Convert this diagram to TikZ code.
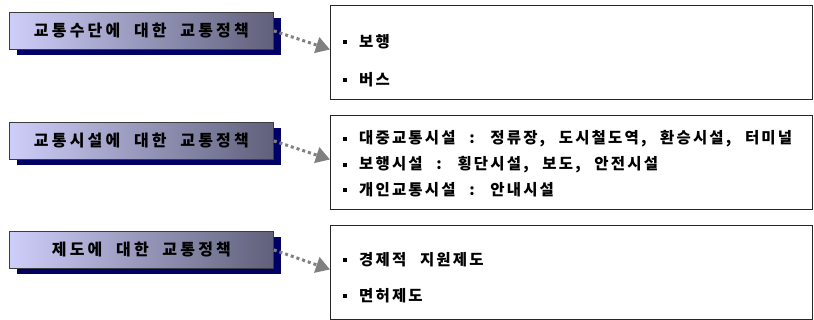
\documentclass[tikz,border=0pt]{standalone}
\usepackage{fontspec}
\usetikzlibrary{arrows.meta,shadows,calc}
\newfontfamily\krtitle[LetterSpace=20,WordSpace=2,BoldFont={Noto Sans CJK KR Black}]{Noto Sans CJK KR}
\newfontfamily\kritem[LetterSpace=14,WordSpace=2.4,BoldFont={Noto Sans CJK KR Black}]{Noto Sans CJK KR}
\definecolor{boxL}{RGB}{206,206,250}
\definecolor{boxR}{RGB}{96,96,124}
\definecolor{shad}{RGB}{0,0,102}
\definecolor{arr}{RGB}{128,128,128}
\definecolor{bord}{RGB}{60,60,60}
\begin{document}
\begin{tikzpicture}[x=1pt,y=-1pt,
 policy/.style={draw=bord, line width=0.8pt, left color=boxL, right color=boxR,
   minimum width=264pt, minimum height=37pt, inner sep=0pt, anchor=north west,
   font=\krtitle\bfseries\fontsize{16pt}{19pt}\selectfont,
   drop shadow={shadow xshift=8pt, shadow yshift=-6pt, fill=shad, opacity=1}},
 detail/.style={draw=black!85, line width=1pt, minimum width=482pt, minimum height=94pt,
   inner sep=0pt, anchor=north west},
 item/.style={anchor=west, inner sep=0pt, font=\kritem\bfseries\fontsize{15.5pt}{18pt}\selectfont},
 bullet/.style={fill=black, minimum size=4.5pt, inner sep=0pt},
 link/.style={draw=arr, line width=3pt, dash pattern=on 3pt off 3pt,
   -{Triangle[length=14pt,width=16pt]}}
]
\useasboundingbox (0,0) rectangle (814,320);

% left policy boxes
\node[policy] (l1) at (9,12) {교통수단에 대한 교통정책};
\node[policy] (l2) at (9,122) {교통시설에 대한 교통정책};
\node[policy] (l3) at (9,231) {제도에 대한 교통정책};

% right detail boxes
\node[detail] (r1) at (330,5) {};
\node[detail] (r2) at (330,115) {};
\node[detail] (r3) at (330,225) {};

% connectors
\draw[link] (l1.east) -- ($(r1.west)+(0,-3)$);
\draw[link] (l2.east) -- ($(r2.west)+(0,-3)$);
\draw[link] (l3.east) -- ($(r3.west)+(0,-3)$);

% items box 1
\node[bullet] (b11) at (345,42) {};
\node[item] (t11) at (359,42) {보행};
\node[bullet] (b12) at (345,80) {};
\node[item] (t12) at (359,80) {버스};

% items box 2
\node[bullet] (b21) at (345,139) {};
\node[item] (t21) at (359,139) {대중교통시설 : 정류장, 도시철도역, 환승시설, 터미널};
\node[bullet] (b22) at (345,165) {};
\node[item] (t22) at (359,165) {보행시설 : 횡단시설, 보도, 안전시설};
\node[bullet] (b23) at (345,190) {};
\node[item] (t23) at (359,190) {개인교통시설 : 안내시설};

% items box 3
\node[bullet] (b31) at (345,260) {};
\node[item] (t31) at (359,260) {경제적 지원제도};
\node[bullet] (b32) at (345,296) {};
\node[item] (t32) at (359,296) {면허제도};
\end{tikzpicture}
\end{document}
